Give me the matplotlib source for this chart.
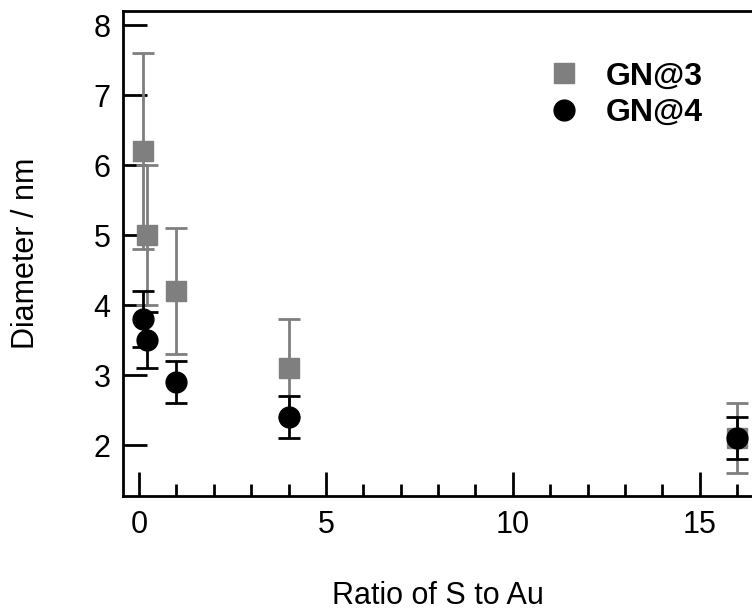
import numpy as np
import matplotlib.pyplot as plt
from matplotlib.ticker import MultipleLocator

plt.rcParams['font.family'] = ['Liberation Sans', 'DejaVu Sans']

ratio = [0.1, 0.2, 1, 4, 16]
gn3 = [6.2, 5.0, 4.2, 3.1, 2.1]
gn3_err = [1.4, 1.0, 0.9, 0.7, 0.5]
gn4 = [3.8, 3.5, 2.9, 2.4, 2.1]
gn4_err = [0.4, 0.4, 0.3, 0.3, 0.3]

fig = plt.figure(figsize=(7.52, 6.13), dpi=100)
ax = fig.add_axes([0.1636, 0.1913, 0.8364, 0.7907])

gray = '#7f7f7f'
e3 = ax.errorbar(ratio, gn3, yerr=gn3_err, fmt='s', color=gray, ms=15,
                 ecolor=gray, elinewidth=2, capsize=8, capthick=2, label='GN@3')
e4 = ax.errorbar(ratio, gn4, yerr=gn4_err, fmt='o', color='black', ms=15,
                 ecolor='black', elinewidth=2, capsize=8, capthick=2, label='GN@4')

ax.set_xlim(-0.43, 16.4)
ax.set_ylim(1.28, 8.2)
ax.xaxis.set_major_locator(MultipleLocator(5))
ax.xaxis.set_minor_locator(MultipleLocator(1))
ax.yaxis.set_major_locator(MultipleLocator(1))
ax.tick_params(axis='both', which='major', direction='in', length=17, width=2,
               labelsize=22, pad=10)
ax.tick_params(axis='x', which='minor', direction='in', length=8.5, width=2)
ax.tick_params(axis='y', which='major', pad=9)
ax.spines['right'].set_visible(False)
for s in ['left', 'bottom', 'top']:
    ax.spines[s].set_linewidth(2)

ax.set_xlabel('Ratio of S to Au', fontsize=22, labelpad=30)
ax.set_ylabel('Diameter / nm', fontsize=22, labelpad=38)

leg = ax.legend([e3.lines[0], e4.lines[0]], ['GN@3', 'GN@4'], loc='upper left',
                bbox_to_anchor=(0.625, 0.955), frameon=False,
                handletextpad=0.7, labelspacing=0.2, handlelength=1.2,
                prop={'weight': 'bold', 'size': 23})

fig.savefig('out.png', dpi=100)
